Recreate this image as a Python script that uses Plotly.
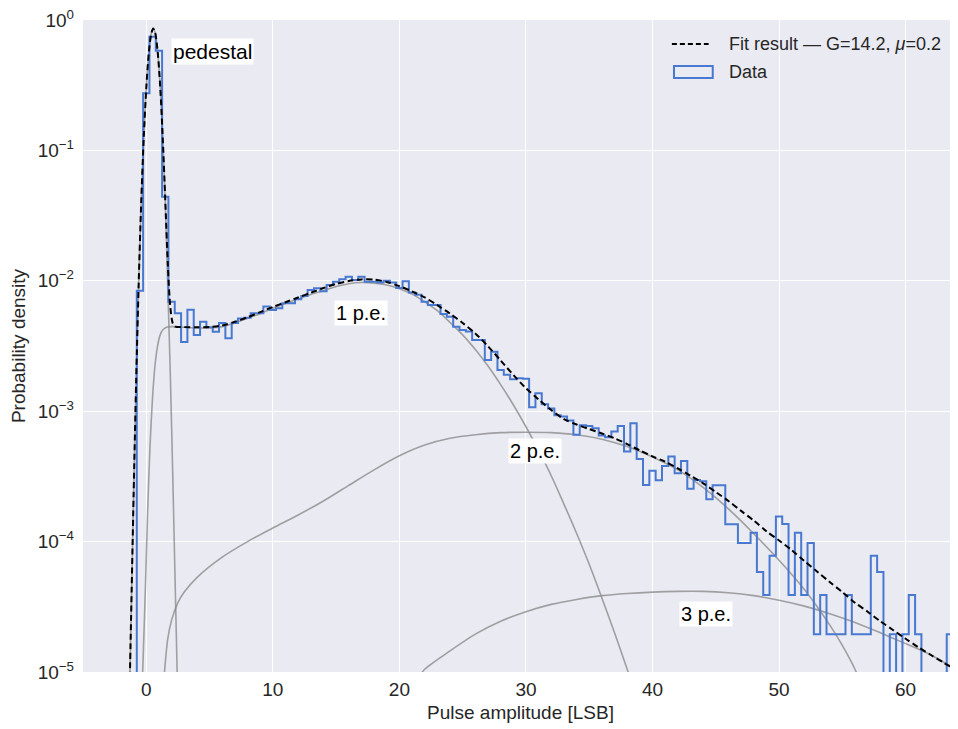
import math
import plotly.graph_objects as go

# ---------------- data ----------------
BIN_WIDTH = 0.5
FIRST_BIN_CENTER = -1.5
hist_density = [
    0, 0, 8.4e-3, 0.274, 0.745, 0.58, 0.0442, 6.9e-3, 5.65e-3, 3.4e-3,      # -1.5 .. 3.0
    6.0e-3, 3.84e-3, 4.86e-3, 4.4e-3, 4.07e-3, 4.75e-3, 3.62e-3, 4.75e-3,   # 3.5 .. 7.0
    5.15e-3, 5.2e-3, 5.64e-3, 5.64e-3, 6.34e-3, 5.97e-3, 6.15e-3, 6.72e-3,  # 7.5 .. 11.0
    6.72e-3, 7.21e-3, 7.65e-3, 8.5e-3, 8.75e-3, 8.3e-3, 9.3e-3, 9.85e-3,    # 11.5 .. 15.0
    1.026e-2, 1.076e-2, 1.015e-2, 1.076e-2, 9.85e-3, 9.85e-3, 9.7e-3, 1.0e-2,  # 15.5 .. 19.0
    9.7e-3, 8.8e-3, 9.9e-3, 8.12e-3, 7.8e-3, 6.92e-3, 6.53e-3, 6.53e-3,     # 19.5 .. 23.0
    5.57e-3, 5.31e-3, 4.45e-3, 4.2e-3, 4.08e-3, 3.52e-3, 3.52e-3, 2.47e-3,  # 23.5 .. 27.0
    2.86e-3, 2.07e-3, 1.9e-3, 1.76e-3, 1.79e-3, 1.77e-3, 1.07e-3, 1.37e-3,  # 27.5 .. 31.0
    1.13e-3, 1.05e-3, 9.3e-4, 9.1e-4, 8.5e-4, 6.6e-4, 7.8e-4, 7.7e-4,       # 31.5 .. 35.0
    7.4e-4, 6.5e-4, 6.3e-4, 7.0e-4, 7.7e-4, 4.9e-4, 8.1e-4, 4.3e-4,         # 35.5 .. 39.0
    2.72e-4, 3.5e-4, 2.95e-4, 3.8e-4, 4.5e-4, 3.34e-4, 4.15e-4, 2.54e-4,    # 39.5 .. 43.0
    2.97e-4, 2.9e-4, 2.11e-4, 2.7e-4, 2.7e-4, 1.36e-4, 1.36e-4, 9.75e-5,    # 43.5 .. 47.0
    9.75e-5, 1.17e-4, 5.85e-5, 3.9e-5, 7.8e-5, 1.56e-4, 1.365e-4, 3.9e-5,   # 47.5 .. 51.0
    1.17e-4, 3.9e-5, 9.75e-5, 1.95e-5, 3.9e-5, 1.95e-5, 1.95e-5, 1.95e-5,   # 51.5 .. 55.0
    3.9e-5, 1.95e-5, 1.95e-5, 1.95e-5, 7.8e-5, 5.85e-5, 0, 1.95e-5,         # 55.5 .. 59.0
    0, 1.95e-5, 3.9e-5, 1.95e-5, 0, 0, 0, 0,                                # 59.5 .. 63.0
    1.95e-5, 1.95e-5, 1.95e-5,                                              # 63.5 .. 64.5
]

fit_x = [-1.3, -1.2, -1.0, -0.8, -0.6, -0.4, -0.2, 0.0, 0.2, 0.4, 0.55, 0.7, 0.9, 1.1,
         1.3, 1.5, 1.7, 1.9, 2.1, 2.3, 3, 4, 5, 6, 7, 8, 9, 10, 11, 12, 13, 14, 15, 16,
         17, 18, 19, 20, 21, 22, 23, 24, 25, 26, 27, 28, 29, 30, 31, 32, 33, 34, 35, 36,
         37, 38, 39, 40, 41, 42, 43, 44, 45, 46, 47, 48, 49, 50, 51, 52, 53, 54, 55, 56,
         57, 58, 59, 60, 61, 62, 63, 64, 65]
fit_y = [9e-6, 2.6e-5, 2.3e-4, 1.7e-3, 9.5e-3, 0.04, 0.125, 0.30, 0.56, 0.79, 0.86, 0.80,
         0.57, 0.31, 0.125, 0.042, 0.0135, 6.3e-3, 4.7e-3, 4.45e-3, 4.42e-3, 4.4e-3,
         4.42e-3, 4.55e-3, 4.85e-3, 5.25e-3, 5.75e-3, 6.3e-3, 6.85e-3, 7.45e-3, 8.1e-3,
         8.8e-3, 9.45e-3, 9.95e-3, 1.025e-2, 1.02e-2, 9.8e-3, 9.1e-3, 8.3e-3, 7.45e-3,
         6.5e-3, 5.6e-3, 4.75e-3, 3.95e-3, 3.15e-3, 2.45e-3, 1.9e-3, 1.5e-3, 1.23e-3,
         1.02e-3, 8.7e-4, 7.9e-4, 7.3e-4, 6.75e-4, 6.2e-4, 5.6e-4, 5.0e-4, 4.5e-4, 4.1e-4,
         3.65e-4, 3.2e-4, 2.8e-4, 2.4e-4, 2.05e-4, 1.72e-4, 1.45e-4, 1.2e-4, 1.02e-4,
         8.6e-5, 7.1e-5, 5.9e-5, 4.9e-5, 4.1e-5, 3.4e-5, 2.9e-5, 2.45e-5, 2.1e-5, 1.8e-5,
         1.55e-5, 1.35e-5, 1.18e-5, 1.03e-5, 9e-6]

ped_x = [-1.3, -1.2, -1.0, -0.8, -0.6, -0.4, -0.2, 0.0, 0.2, 0.4, 0.55, 0.7, 0.9, 1.1,
         1.3, 1.5, 1.7, 1.9, 2.1, 2.3, 2.45]
ped_y = [9e-6, 2.6e-5, 2.3e-4, 1.7e-3, 9.5e-3, 0.04, 0.125, 0.30, 0.56, 0.79, 0.86, 0.80,
         0.57, 0.31, 0.125, 0.04, 9e-3, 1.9e-3, 3e-4, 4e-5, 9e-6]

pe1_x = [-0.3, -0.1, 0.1, 0.3, 0.5, 0.7, 0.9, 1.1, 1.3, 1.6, 2, 3, 4, 5, 6, 7, 8, 9, 10,
         11, 12, 13, 14, 15, 16, 17, 18, 19, 20, 21, 22, 23, 24, 25, 26, 27, 28, 29, 30,
         31, 32, 33, 34, 35, 36, 37, 38, 38.5]
pe1_y = [9e-6, 3.5e-5, 1.6e-4, 5.5e-4, 1.3e-3, 2.3e-3, 3.2e-3, 3.85e-3, 4.2e-3, 4.4e-3,
         4.45e-3, 4.4e-3, 4.35e-3, 4.35e-3, 4.45e-3, 4.75e-3, 5.15e-3, 5.6e-3, 6.15e-3,
         6.7e-3, 7.25e-3, 7.85e-3, 8.4e-3, 9.05e-3, 9.5e-3, 9.7e-3, 9.6e-3, 9.3e-3, 8.7e-3,
         7.9e-3, 6.9e-3, 5.9e-3, 4.8e-3, 3.85e-3, 2.97e-3, 2.22e-3, 1.6e-3, 1.12e-3,
         7.6e-4, 5.0e-4, 3.2e-4, 1.94e-4, 1.16e-4, 6.7e-5, 3.7e-5, 2.0e-5, 1.05e-5, 7.5e-6]

pe2_x = [1.4, 1.7, 2.0, 2.5, 3, 4, 6, 8, 10, 12, 14, 16, 18, 20, 22, 24, 26, 28,
         30, 32, 34, 36, 38, 40, 42, 44, 46, 48, 50, 52, 54, 55, 56, 56.5]
pe2_y = [9e-6, 1.8e-5, 2.5e-5, 3.4e-5, 4.1e-5, 5.3e-5, 7.6e-5, 1.0e-4, 1.27e-4,
         1.6e-4, 2.05e-4, 2.7e-4, 3.55e-4, 4.55e-4, 5.5e-4, 6.2e-4,
         6.6e-4, 6.85e-4, 6.9e-4, 6.85e-4, 6.6e-4, 6.1e-4, 5.35e-4, 4.45e-4, 3.55e-4,
         2.6e-4, 1.78e-4, 1.15e-4, 7.2e-5, 4.3e-5, 2.3e-5, 1.6e-5, 1.05e-5, 8e-6]

pe3_x = [21.5, 22, 24, 26, 28, 30, 32, 34, 36, 38, 40, 42, 44, 46, 48, 50, 52, 54, 56, 58,
         60, 62, 64, 65]
pe3_y = [9e-6, 1.05e-5, 1.45e-5, 1.95e-5, 2.45e-5, 2.9e-5, 3.3e-5, 3.6e-5, 3.85e-5, 4.0e-5,
         4.1e-5, 4.15e-5, 4.15e-5, 4.05e-5, 3.85e-5, 3.55e-5, 3.2e-5, 2.8e-5, 2.4e-5,
         2.0e-5, 1.65e-5, 1.35e-5, 1.05e-5, 9.5e-6]

labels = ["pedestal", "1 p.e.", "2 p.e.", "3 p.e."]
label_x = [5.2, 17.0, 30.7, 44.2]
label_y = [0.569, 5.66e-3, 4.95e-4, 2.79e-5]

legend_fit = "Fit result — G=14.2, <i>μ</i>=0.2"
legend_data = "Data"

# ---------------- figure ----------------
edges = [FIRST_BIN_CENTER - BIN_WIDTH / 2 + i * BIN_WIDTH for i in range(len(hist_density) + 1)]
FLOOR = 1e-9  # empty bins fall below the axis
step_y = [v if v > 0 else FLOOR for v in hist_density]
step_y = step_y + [step_y[-1]]

GRAY = "rgba(140,140,140,0.8)"
BLUE = "#4878CF"
FONT = "Liberation Sans, Arial, sans-serif"
TXT = "#262626"

fig = go.Figure()
for xs, ys in [(ped_x, ped_y), (pe1_x, pe1_y), (pe2_x, pe2_y), (pe3_x, pe3_y)]:
    fig.add_trace(go.Scatter(x=xs, y=ys, mode="lines",
                             line=dict(color=GRAY, width=1.6, shape="spline", smoothing=0.8),
                             showlegend=False, hoverinfo="skip"))
fig.add_trace(go.Scatter(x=edges, y=step_y, mode="lines", line=dict(color=BLUE, width=2, shape="hv"),
                         showlegend=False))
fig.add_trace(go.Scatter(x=fit_x, y=fit_y, mode="lines",
                         line=dict(color="black", width=2, dash="6px,3.5px", shape="spline", smoothing=0.8),
                         showlegend=False))

for t, x, y in zip(labels, label_x, label_y):
    fig.add_annotation(x=x, y=math.log10(y), text=t, showarrow=False, xref="x", yref="y",
                       font=dict(family=FONT, size=21 if t == "pedestal" else 20, color="black"),
                       bgcolor="white", borderpad=1)

# custom legend (matplotlib style)
fig.add_shape(type="line", xref="paper", yref="paper", x0=0.673, x1=0.715, y0=0.9632, y1=0.9632,
              line=dict(color="black", width=2, dash="5px,3px"))
fig.add_shape(type="rect", xref="paper", yref="paper", x0=0.6754, x1=0.7197, y0=0.9109, y1=0.9294,
              line=dict(color=BLUE, width=2), fillcolor="rgba(0,0,0,0)")
fig.add_annotation(xref="paper", yref="paper", x=0.736, y=0.9632, xanchor="left", yanchor="middle",
                   text=legend_fit, showarrow=False, font=dict(family=FONT, size=18, color=TXT))
fig.add_annotation(xref="paper", yref="paper", x=0.736, y=0.9202, xanchor="left", yanchor="middle",
                   text=legend_data, showarrow=False, font=dict(family=FONT, size=18, color=TXT))

tickvals = [1e-5, 1e-4, 1e-3, 1e-2, 1e-1, 1e0]
ticktext = ["10<sup>−5</sup>", "10<sup>−4</sup>", "10<sup>−3</sup>", "10<sup>−2</sup>",
            "10<sup>−1</sup>", "10<sup>0</sup>"]

# page body has an 8 px margin, so the figure is 8 px smaller than the window
fig.update_layout(
    width=950, height=721,
    margin=dict(l=75, r=0, t=12, b=57),
    paper_bgcolor="white", plot_bgcolor="#EAEAF2",
    font=dict(family=FONT, size=19, color=TXT),
    showlegend=False,
)
fig.update_xaxes(range=[-5, 64.14], tick0=0, dtick=10, showgrid=True, gridcolor="white", gridwidth=1.2,
                 zeroline=False, showline=False, ticks="", ticklabelstandoff=4,
                 ticklabeloverflow="allow",
                 title=dict(text="Pulse amplitude [LSB]", font=dict(size=19), standoff=6))
fig.update_yaxes(type="log", range=[-5, 0], tickvals=tickvals, ticktext=ticktext, showgrid=True,
                 gridcolor="white", gridwidth=1.2, zeroline=False, showline=False, ticks="",
                 ticklabelstandoff=8, ticklabeloverflow="allow",
                 title=dict(text="Probability density", font=dict(size=19), standoff=10))

fig.write_html("out.html")
